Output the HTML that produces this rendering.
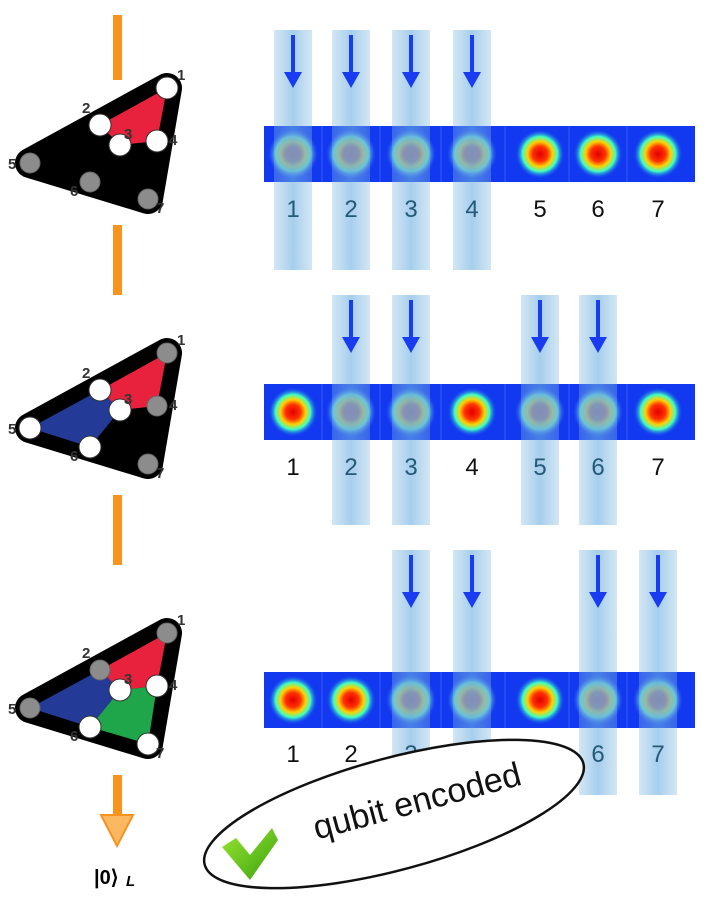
<!DOCTYPE html>
<html><head><meta charset="utf-8"><style>
html,body{margin:0;padding:0;background:#fff;width:720px;height:908px;overflow:hidden}
svg{display:block}
text{font-family:"Liberation Sans",sans-serif}
</style></head><body>
<svg id="s" width="720" height="908" viewBox="0 0 720 908" xmlns="http://www.w3.org/2000/svg">
<defs>
<radialGradient id="ionR"><stop offset="0" stop-color="#e00000"/><stop offset="0.3" stop-color="#ff3000"/><stop offset="0.5" stop-color="#ffd000"/><stop offset="0.7" stop-color="#40ffc0"/><stop offset="1" stop-color="#1030ff" stop-opacity="0"/></radialGradient>
<radialGradient id="ionM"><stop offset="0" stop-color="#a06080"/><stop offset="0.3" stop-color="#a07080"/><stop offset="0.5" stop-color="#b0c070"/><stop offset="0.7" stop-color="#60d0d0"/><stop offset="1" stop-color="#3050ff" stop-opacity="0"/></radialGradient>
<linearGradient id="beam" x1="0" x2="1"><stop offset="0" stop-color="#7fb8e0" stop-opacity="0.35"/><stop offset="0.5" stop-color="#6aaee0" stop-opacity="0.6"/><stop offset="1" stop-color="#7fb8e0" stop-opacity="0.35"/></linearGradient>
<linearGradient id="chk" x1="0" y1="0" x2="1" y2="1"><stop offset="0" stop-color="#9be830"/><stop offset="1" stop-color="#3aa010"/></linearGradient>
</defs>
<g id="g"></g>
</svg>
<script>
const NS="http://www.w3.org/2000/svg",G=document.getElementById('g');
function el(t,a,txt){const e=document.createElementNS(NS,t);for(const k in a)e.setAttribute(k,a[k]);if(txt)e.textContent=txt;G.appendChild(e);return e;}
[[15,80],[225,295],[495,565]].forEach(s=>el('rect',{x:113,y:s[0],width:9,height:s[1]-s[0],fill:'#f7931e'}));
el('rect',{x:113,y:775,width:9,height:45,fill:'#f7931e'});
el('path',{d:'M101 815 L133 815 L117 846 Z',fill:'#fbb860',stroke:'#f7931e','stroke-width':2});
el('text',{x:94,y:884,'font-size':'20','font-weight':'bold','font-family':'Liberation Serif'},'|0⟩');
el('text',{x:126,y:886,'font-size':'15','font-style':'italic','font-weight':'bold','font-family':'Liberation Serif'},'L');
const P={1:[167,633],2:[100,670],3:[120,690],4:[157,686],5:[30,708],6:[90,727],7:[148,744]};
function tri(dx,dy,reg,white){
 const p=k=>[P[k][0]+dx,P[k][1]+dy];
 const pts=ks=>ks.map(k=>p(k).join(',')).join(' ');
 el('polygon',{points:pts([1,5,7]),fill:'#000',stroke:'#000','stroke-width':30,'stroke-linejoin':'round'});
 if(reg.includes('r'))el('polygon',{points:pts([2,1,4,3]),fill:'#e8223c'});
 if(reg.includes('b'))el('polygon',{points:pts([5,2,3,6]),fill:'#233a96'});
 if(reg.includes('g'))el('polygon',{points:pts([3,4,7,6]),fill:'#1fa64a'});
 for(let k=1;k<=7;k++){const c=p(k);const w=white.includes(k);
  el('circle',{cx:c[0],cy:c[1],r:w?11:10,fill:w?'#fff':'#8c8c8c',stroke:w?'#333':'#666','stroke-width':1});}
 const L={1:[10,-8],2:[-18,-12],3:[4,-6],4:[12,4],5:[-22,6],6:[-20,14],7:[8,14]};
 for(let k=1;k<=7;k++){const c=p(k);el('text',{x:c[0]+L[k][0],y:c[1]+L[k][1],'font-size':'15','font-weight':'bold',fill:'#333'},k);}
}
tri(0,-545,'r',[1,2,3,4]);
tri(0,-280,'rb',[2,3,5,6]);
tri(0,0,'rbg',[3,4,6,7]);
const X=[293,351,411,472,540,598,658];
function row(y0,meas,beamTop,beamBot,ly){
 el('rect',{x:264,y:y0,width:431,height:56,fill:'#1238f0'});
 [322,380,441,505,569,627].forEach(x=>el('line',{x1:x,y1:y0,x2:x,y2:y0+56,stroke:'#3a5aff','stroke-width':1}));
 X.forEach((x,i)=>{const m=meas.includes(i+1);el('circle',{cx:x,cy:y0+28,r:25,fill:m?'url(#ionM)':'url(#ionR)'});});
 X.forEach((x,i)=>{const m=meas.includes(i+1);
  if(m){el('rect',{x:x-19,y:beamTop,width:38,height:beamBot-beamTop,fill:'url(#beam)'});
   el('rect',{x:x-2,y:beamTop+5,width:4,height:42,fill:'#1a3cf0'});
   el('path',{d:`M${x-9} ${beamTop+42} L${x+9} ${beamTop+42} L${x} ${beamTop+58} Z`,fill:'#1a3cf0'});}
  el('text',{x:x,y:ly,'font-size':'24','text-anchor':'middle',fill:m?'#245a78':'#111'},i+1);});
}
row(126,[1,2,3,4],30,270,217);
row(384,[2,3,5,6],295,525,475);
row(672,[3,4,6,7],550,795,762);
el('ellipse',{cx:394,cy:814,rx:196,ry:56,transform:'rotate(-15 394 814)',fill:'#fff',stroke:'#111','stroke-width':2.5});
el('text',{x:420,y:812,'font-size':'34','text-anchor':'middle',transform:'rotate(-15 420 812)',fill:'#111'},'qubit encoded');
el('path',{d:'M222 847 L236 838 L250 855 L272 828 L278 840 L250 880 Z',fill:'url(#chk)'});
</script>
</body></html>
